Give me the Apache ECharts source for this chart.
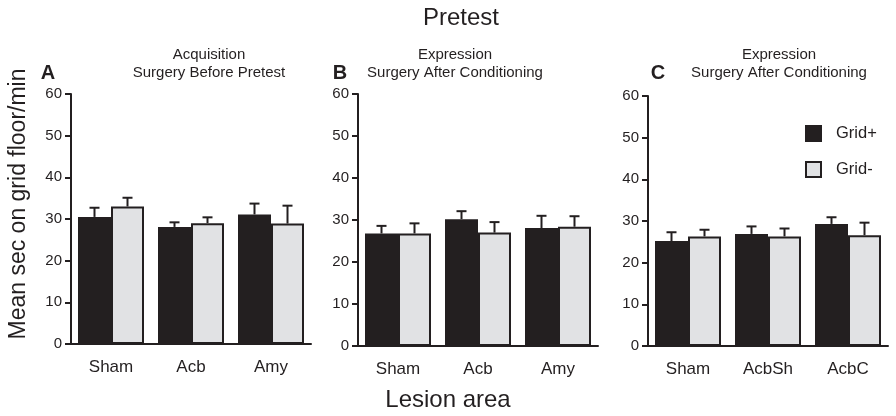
<!DOCTYPE html>
<html lang="en">
<head>
    <meta charset="UTF-8">
    <title>Pretest</title>
    <script src="https://cdn.jsdelivr.net/npm/echarts@6/dist/echarts.min.js"></script>
    <style>
        html, body { margin: 0; padding: 0; background: #fff; }
        #container { width: 896px; height: 416px; }
    </style>
</head>
<body>
<div id="container"></div>
<script>
    // categories per panel
    var catsA = ['Sham', 'Acb', 'Amy'];
    var catsB = ['Sham', 'Acb', 'Amy'];
    var catsC = ['Sham', 'AcbSh', 'AcbC'];

    // Grid+ / Grid- means and SEM
    var plusA = [30.5, 28.1, 31.1];
    var plusErrA = [2.2, 1.1, 2.6];
    var minusA = [33.0, 29.0, 28.9];
    var minusErrA = [2.1, 1.4, 4.3];

    var plusB = [26.8, 30.2, 28.1];
    var plusErrB = [1.8, 1.9, 2.9];
    var minusB = [26.8, 27.0, 28.4];
    var minusErrB = [2.4, 2.5, 2.5];

    var plusC = [25.2, 26.9, 29.3];
    var plusErrC = [2.1, 1.8, 1.6];
    var minusC = [26.3, 26.3, 26.6];
    var minusErrC = [1.6, 1.9, 3.0];

    var ink = '#231f20', light = '#e1e2e4';
    var font = 'Liberation Sans, Arial, sans-serif';
    var barW = 33;

    var grids = [
        {left: 71, top: 94, width: 240, height: 250},
        {left: 358, top: 94, width: 240, height: 252},
        {left: 648, top: 96, width: 240, height: 250}
    ];
    var panels = [
        {cats: catsA, plus: plusA, plusErr: plusErrA, minus: minusA, minusErr: minusErrA},
        {cats: catsB, plus: plusB, plusErr: plusErrB, minus: minusB, minusErr: minusErrB},
        {cats: catsC, plus: plusC, plusErr: plusErrC, minus: minusC, minusErr: minusErrC}
    ];

    // error bar: only the upper whisker, shifted onto its bar
    function errRender(offset) {
        return function (params, api) {
            var i = api.value(0), mean = api.value(1), err = api.value(2);
            var p0 = api.coord([i, mean]);
            var p1 = api.coord([i, mean + err]);
            var x = p0[0] + offset;
            var st = {stroke: ink, lineWidth: 2};
            return {
                type: 'group',
                children: [
                    {type: 'line', shape: {x1: x, y1: p0[1], x2: x, y2: p1[1]}, style: st},
                    {type: 'line', shape: {x1: x - 5, y1: p1[1], x2: x + 5, y2: p1[1]}, style: st}
                ]
            };
        };
    }

    var xAxes = [], yAxes = [], series = [];
    panels.forEach(function (p, k) {
        xAxes.push({
            type: 'category', gridIndex: k, data: p.cats,
            axisLine: {lineStyle: {color: ink, width: 2}},
            axisTick: {alignWithLabel: true, length: 6, lineStyle: {color: ink, width: 2}},
            axisLabel: {color: ink, fontSize: 17, fontFamily: font, margin: 15}
        });
        yAxes.push({
            type: 'value', gridIndex: k, min: 0, max: 60, interval: 10,
            axisLine: {show: true, lineStyle: {color: ink, width: 2}},
            axisTick: {show: true, length: 6, lineStyle: {color: ink, width: 2}},
            axisLabel: {color: ink, fontSize: 15, fontFamily: font, margin: 9},
            splitLine: {show: false}
        });
        series.push({
            name: 'Grid+', type: 'bar', xAxisIndex: k, yAxisIndex: k,
            barWidth: barW, barGap: '0%',
            itemStyle: {color: ink, borderColor: ink, borderWidth: 2},
            data: p.plus
        });
        series.push({
            name: 'Grid-', type: 'bar', xAxisIndex: k, yAxisIndex: k,
            barWidth: barW, barGap: '0%',
            itemStyle: {color: light, borderColor: ink, borderWidth: 2},
            data: p.minus
        });
        series.push({
            name: 'errPlus' + k, type: 'custom', xAxisIndex: k, yAxisIndex: k, z: 1,
            renderItem: errRender(-barW / 2),
            data: p.plus.map(function (v, i) { return [i, v, p.plusErr[i]]; })
        });
        series.push({
            name: 'errMinus' + k, type: 'custom', xAxisIndex: k, yAxisIndex: k, z: 1,
            renderItem: errRender(barW / 2),
            data: p.minus.map(function (v, i) { return [i, v, p.minusErr[i]]; })
        });
    });

    function t(text, x, y, size, weight) {
        return {
            text: text, left: x, top: y, textAlign: 'center', padding: 0,
            textStyle: {color: ink, fontSize: size, fontWeight: weight || 'normal', fontFamily: font}
        };
    }

    var myChart = echarts.init(document.getElementById('container'), null, {renderer: 'canvas'});
    myChart.setOption({
        backgroundColor: '#fff',
        animation: false,
        title: [
            t('Pretest', 461, 6, 24),
            t('Acquisition', 209, 47, 15),
            t('Surgery Before Pretest', 209, 65, 15),
            t('Expression', 455, 47, 15),
            t('Surgery After Conditioning', 455, 65, 15),
            t('Expression', 779, 47, 15),
            t('Surgery After Conditioning', 779, 65, 15),
            t('A', 48, 63, 20, 'bold'),
            t('B', 340, 63, 20, 'bold'),
            t('C', 658, 63, 20, 'bold'),
            t('Lesion area', 448, 388, 24)
        ],
        legend: {
            data: ['Grid+', 'Grid-'],
            orient: 'vertical', left: 805, top: 125, padding: 0,
            icon: 'rect', itemWidth: 15, itemHeight: 15, itemGap: 19,
            textStyle: {color: ink, fontSize: 16.5, fontFamily: font, padding: [0, 0, 0, 10]}
        },
        graphic: [{
            type: 'text', x: 19, y: 204, rotation: Math.PI / 2,
            style: {text: 'Mean sec on grid floor/min', fill: ink, fontSize: 23, fontFamily: font,
                align: 'center', verticalAlign: 'middle'}
        }],
        grid: grids,
        xAxis: xAxes,
        yAxis: yAxes,
        series: series
    });
</script>
</body>
</html>
